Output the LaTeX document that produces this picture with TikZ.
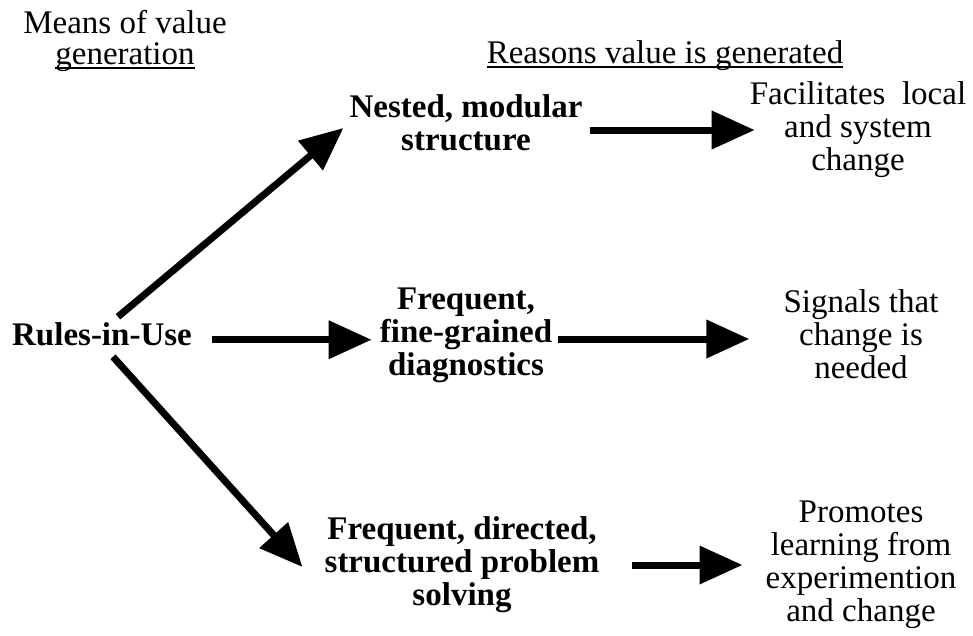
\documentclass[tikz,border=0pt]{standalone}
\usepackage{fontspec}
\setmainfont{Liberation Serif}
\usetikzlibrary{arrows.meta,calc}
\newcommand\myul[1]{\setbox0\hbox{#1}\rlap{\rule[-5pt]{\wd0}{1.8pt}}\box0}
\tikzset{
  txt/.style={inner sep=0pt, align=center, font=\fontsize{33}{33}\selectfont},
  btxt/.style={inner sep=0pt, align=center, font=\fontsize{33}{33}\selectfont\bfseries},
  arr/.style={line width=7pt, -{Triangle[length=43pt,width=37pt]}},
}
\begin{document}
\begin{tikzpicture}[x=1pt,y=-1pt]
\useasboundingbox (0,0) rectangle (973,635);
\node[inner sep=0pt, align=center, font=\fontsize{33}{31}\selectfont] (means) at (125,40.5) {Means of value\\\myul{generation}};
\node[txt,anchor=base] (reasons) at (665,63) {\myul{Reasons value is generated}};
\node[btxt,anchor=base] (rules) at (102,345) {Rules-in-Use};
\node[btxt] (nested) at (466,123) {Nested, modular\\structure};
\node[btxt] (freq1) at (466,335.5) {Frequent,\\fine-grained\\diagnostics};
\node[btxt] (freq2) at (462,564.5) {Frequent, directed,\\structured problem\\solving};
\node[txt] (facil) at (858,129.5) {Facilitates\ \ local\\and system\\change};
\node[txt] (signals) at (861,334.5) {Signals that\\change is\\needed};
\node[txt] (promotes) at (861,564.5) {Promotes\\learning from\\experimention\\and change};
% arrows from Rules-in-Use
\coordinate (a1s) at ($(rules.center)+(16,-17)$);
\draw[arr] (a1s) -- ($(nested.west)+(-6,5)$);
\coordinate (a2s) at ($(rules.east)+(20,6)$);
\draw[arr,shorten >=8pt] (a2s) -- (a2s -| freq1.west);
\coordinate (a3s) at ($(rules.center)+(11,23)$);
\draw[arr] (a3s) -- ($(freq2.west)+(-22,2.5)$);
% arrows to reasons
\coordinate (b1s) at ($(nested.east)+(7,7)$);
\draw[arr,shorten >=-5pt] (b1s) -- (b1s -| facil.west);
\coordinate (b2s) at ($(freq1.east)+(6,3.5)$);
\draw[arr,shorten >=34pt] (b2s) -- (b2s -| signals.west);
\coordinate (b3s) at ($(freq2.east)+(32,0.5)$);
\draw[arr,shorten >=23pt] (b3s) -- (b3s -| promotes.west);
\end{tikzpicture}
\end{document}
